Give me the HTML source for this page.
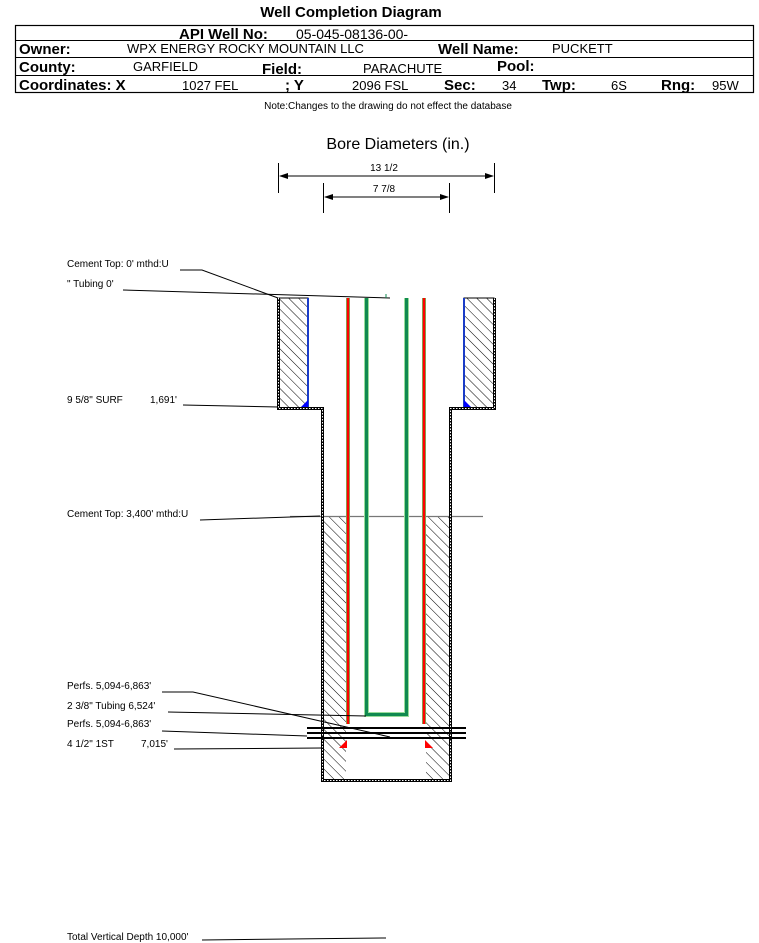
<!DOCTYPE html>
<html><head><meta charset="utf-8"><style>
html,body{margin:0;padding:0;background:#fff;}
svg{display:block;font-family:"Liberation Sans",Arial,sans-serif;}
</style></head><body>
<svg width="759" height="943" viewBox="0 0 759 943" xmlns="http://www.w3.org/2000/svg">
<defs>
<pattern id="h" patternUnits="userSpaceOnUse" width="7" height="7" patternTransform="rotate(-45)">
<rect width="7" height="7" fill="#fff"/><line x1="0" y1="0" x2="0" y2="7" stroke="#000" stroke-width="1"/>
</pattern>
</defs>
<text x="351" y="17" font-size="15" font-weight="bold" text-anchor="middle">Well Completion Diagram</text>
<rect x="15.5" y="25.5" width="738" height="67" fill="none" stroke="#000" stroke-width="1.2"/>
<line x1="15" y1="40.5" x2="753" y2="40.5" stroke="#000"/>
<line x1="15" y1="57.5" x2="753" y2="57.5" stroke="#000"/>
<line x1="15" y1="75.5" x2="753" y2="75.5" stroke="#000"/>
<g font-size="15" font-weight="bold">
<text x="179" y="39">API Well No:</text>
<text x="19" y="54">Owner:</text>
<text x="438" y="54">Well Name:</text>
<text x="19" y="72">County:</text>
<text x="262" y="74">Field:</text>
<text x="497" y="71">Pool:</text>
<text x="19" y="90">Coordinates: X</text>
<text x="285" y="90">; Y</text>
<text x="444" y="90">Sec:</text>
<text x="542" y="90">Twp:</text>
<text x="661" y="90">Rng:</text>
</g>
<g font-size="13">
<text x="296" y="39" font-size="14">05-045-08136-00-</text>
<text x="127" y="53">WPX ENERGY ROCKY MOUNTAIN LLC</text>
<text x="552" y="53">PUCKETT</text>
<text x="133" y="71">GARFIELD</text>
<text x="363" y="73">PARACHUTE</text>
<text x="182" y="90">1027 FEL</text>
<text x="352" y="90">2096 FSL</text>
<text x="502" y="90">34</text>
<text x="611" y="90">6S</text>
<text x="712" y="90">95W</text>
</g>
<text x="388" y="109" font-size="10" text-anchor="middle">Note:Changes to the drawing do not effect the database</text>

<text x="398" y="149" font-size="16" text-anchor="middle">Bore Diameters (in.)</text>
<g stroke="#000" stroke-width="1">
<line x1="278.5" y1="163" x2="278.5" y2="193"/><line x1="494.5" y1="163" x2="494.5" y2="193"/>
<line x1="280" y1="176" x2="493" y2="176"/>
<line x1="323.5" y1="183" x2="323.5" y2="213"/><line x1="449.5" y1="183" x2="449.5" y2="213"/>
<line x1="325" y1="197" x2="448" y2="197"/>
</g>
<g fill="#000">
<path d="M279 176 l9 -3 v6z"/><path d="M494 176 l-9 -3 v6z"/>
<path d="M324 197 l9 -3 v6z"/><path d="M449 197 l-9 -3 v6z"/>
</g>
<text x="384" y="171" font-size="10" text-anchor="middle">13 1/2</text>
<text x="384" y="192" font-size="10" text-anchor="middle">7 7/8</text>

<rect x="279" y="298" width="29" height="110" fill="url(#h)" stroke="#000"/>
<rect x="464" y="298" width="30" height="110" fill="url(#h)" stroke="#000"/>
<line x1="308" y1="298" x2="308" y2="408" stroke="#1a3cc8" stroke-width="2"/>
<line x1="464" y1="298" x2="464" y2="408" stroke="#1a3cc8" stroke-width="2"/>
<path d="M308 400 L308 408 L300 408Z" fill="#0000ff"/>
<path d="M464 400 L464 408 L472 408Z" fill="#0000ff"/>
<rect x="322" y="516" width="24" height="264" fill="url(#h)"/>
<rect x="426" y="516" width="24" height="264" fill="url(#h)"/>
<line x1="290" y1="516.5" x2="483" y2="516.5" stroke="#777" stroke-width="1.2"/>
<path d="M278.5 298 V408.5 H322.5 V780.5 H450.5 V408.5 H494.5 V298" fill="none" stroke="#000" stroke-width="3"/>
<path d="M278.5 298 V408.5 H322.5 V780.5 H450.5 V408.5 H494.5 V298" fill="none" stroke="#fff" stroke-width="1" stroke-dasharray="1.5 1.5"/>
<line x1="348" y1="298" x2="348" y2="724" stroke="#6c6" stroke-width="4"/>
<line x1="348" y1="298" x2="348" y2="724" stroke="#f00" stroke-width="2.5"/>
<line x1="424" y1="298" x2="424" y2="724" stroke="#6c6" stroke-width="4"/>
<line x1="424" y1="298" x2="424" y2="724" stroke="#f00" stroke-width="2.5"/>
<path d="M347 740 V748 H339Z" fill="#f00"/>
<path d="M425 740 V748 H433Z" fill="#f00"/>
<path d="M366.5 298 V714.5 H406.5 V298" fill="none" stroke="#9d9" stroke-width="5"/>
<path d="M366.5 298 V714.5 H406.5 V298" fill="none" stroke="#108a50" stroke-width="3"/>
<g stroke="#000" stroke-width="2">
<line x1="307" y1="728" x2="466" y2="728"/>
<line x1="307" y1="733" x2="466" y2="733"/>
<line x1="307" y1="738" x2="466" y2="738"/>
</g>
<g font-size="10">
<text x="67" y="267">Cement Top: 0' mthd:U</text>
<text x="67" y="287">" Tubing 0'</text>
<text x="67" y="403">9 5/8" SURF</text><text x="150" y="403">1,691'</text>
<text x="67" y="517">Cement Top: 3,400' mthd:U</text>
<text x="67" y="689">Perfs. 5,094-6,863'</text>
<text x="67" y="709">2 3/8" Tubing 6,524'</text>
<text x="67" y="727">Perfs. 5,094-6,863'</text>
<text x="67" y="747">4 1/2" 1ST</text><text x="141" y="747">7,015'</text>
<text x="67" y="940">Total Vertical Depth 10,000'</text>
</g>
<g stroke="#000" stroke-width="1" fill="none">
<polyline points="180,270 202,270 278,298"/>
<polyline points="123,290 390,298"/>
<polyline points="183,405 278,407"/>
<polyline points="200,520 320,516"/>
<polyline points="162,692 193,692 390,737"/>
<polyline points="168,712 366,716"/>
<polyline points="162,731 307,736"/>
<polyline points="174,749 322,748"/>
<polyline points="202,940 386,938"/>
</g>
<line x1="386" y1="294" x2="386" y2="298" stroke="#108a50"/>
</svg>
</body></html>
